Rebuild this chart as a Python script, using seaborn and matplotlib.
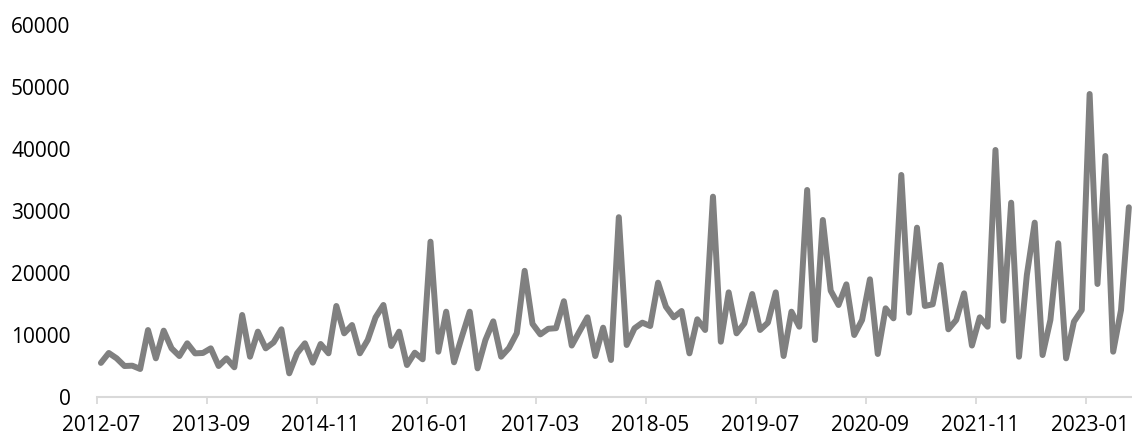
import matplotlib
matplotlib.use("Agg")
import matplotlib.pyplot as plt
import seaborn as sns
import pandas as pd
import numpy as np

# monthly series 2012-07 .. 2023-06
months = pd.period_range("2012-07", periods=132, freq="M").strftime("%Y-%m").tolist()
values = [
    5500, 7100, 6240, 5000, 5050, 4520, 10800, 6240, 10700, 7850,
    6610, 8660, 7040, 7100, 7850, 5000, 6240, 4790, 13230, 6500,
    10540, 7850, 8800, 10920, 3820, 7050, 8660, 5540, 8550, 7050,
    14680, 10270, 11610, 7050, 9190, 12850, 14840, 8230, 10540, 5160,
    7150, 6080, 25050, 7310, 13760, 5600, 9730, 13760, 4620, 9190,
    12200, 6500, 7900, 10300, 20350, 11800, 10100, 11000, 11100, 15450,
    8300, 10600, 12850, 6610, 11180, 5970, 29000, 8390, 11080, 11990,
    11450, 18440, 14570, 12850, 13870, 7040, 12530, 10810, 32310, 8920,
    16880, 10270, 11880, 16610, 10810, 11990, 16880, 6610, 13760, 11340,
    33390, 9190, 28550, 17150, 14840, 18170, 10000, 12420, 18980, 6940,
    14300, 12690, 35810, 13600, 27310, 14680, 14950, 21290, 10920, 12420,
    16720, 8300, 12850, 11340, 39840, 12310, 31340, 6500, 19680, 28120,
    6770, 12420, 24790, 6240, 12150, 14030, 48870, 18230, 38870, 7310,
    14030, 30600,
]
y_ticks = [0, 10000, 20000, 30000, 40000, 50000, 60000]
label_step = 14

df = pd.DataFrame({"idx": np.arange(len(values)), "month": months, "value": values})

sns.set_theme(style="white")
plt.rcParams["font.family"] = ["Open Sans", "DejaVu Sans"]

W, H = 1132, 437
fig = plt.figure(figsize=(W / 100, H / 100), dpi=100)
ax = fig.add_axes([97 / W, (H - 397) / H, (W - 97) / W, (397 - 25) / H])

sns.lineplot(data=df, x="idx", y="value", ax=ax, color="#808080",
             linewidth=4.3, solid_joinstyle="round", solid_capstyle="round",
             clip_on=False)

n = len(values)
ax.set_xlim(-0.5, n - 0.6)
ax.set_ylim(0, 60000)
ax.set_yticks(y_ticks)
ax.set_yticklabels([str(v) for v in y_ticks], fontsize=15, color="#000000")

lab_pos = list(range(0, n, label_step))
ax.set_xticks([p - 0.5 for p in lab_pos])
ax.set_xticklabels([])
ax.set_xticks(lab_pos, minor=True)
ax.set_xticklabels([months[p] for p in lab_pos], minor=True, fontsize=15, color="#000000")
ax.tick_params(axis="x", which="major", length=5, width=1.3, color="#d9d9d9", direction="out", bottom=True)
ax.tick_params(axis="x", which="minor", length=0, pad=13, bottom=True)
ax.tick_params(axis="y", length=0, pad=19)

ax.set_xlabel("")
ax.set_ylabel("")
for s in ["top", "right", "left"]:
    ax.spines[s].set_visible(False)
ax.spines["bottom"].set_color("#d9d9d9")
ax.spines["bottom"].set_linewidth(1.5)
ax.grid(False)

fig.savefig("out.png", dpi=100)
